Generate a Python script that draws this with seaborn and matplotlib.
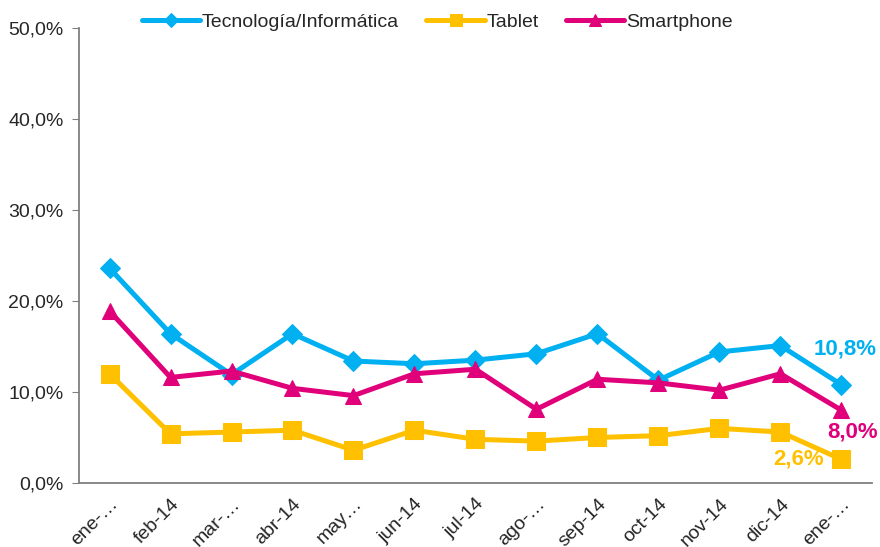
import numpy as np
import pandas as pd
import matplotlib
matplotlib.use("Agg")
import matplotlib.pyplot as plt
import seaborn as sns

# Data
months = ["ene-…", "feb-14", "mar-…", "abr-14", "may…", "jun-14", "jul-14",
          "ago-…", "sep-14", "oct-14", "nov-14", "dic-14", "ene-…"]
tecnologia = [23.6, 16.4, 11.9, 16.4, 13.4, 13.1, 13.5, 14.2, 16.4, 11.3, 14.4, 15.1, 10.8]
tablet = [12.0, 5.4, 5.6, 5.8, 3.6, 5.8, 4.8, 4.6, 5.0, 5.2, 6.0, 5.6, 2.6]
smartphone = [18.9, 11.6, 12.3, 10.4, 9.6, 12.0, 12.5, 8.1, 11.4, 11.0, 10.2, 12.0, 8.0]

series = ["Tecnología/Informática", "Tablet", "Smartphone"]
colors = ["#00B0F0", "#FFC000", "#E0007A"]
markers = ["D", "s", "^"]
msizes = [10, 13, 12]

sns.set_style("white")
plt.rcParams['font.family'] = ['Liberation Sans', 'DejaVu Sans']

df = pd.DataFrame({
    "pos": list(range(len(months))) * 3,
    "valor": tecnologia + tablet + smartphone,
    "serie": [s for s in series for _ in months],
})

fig = plt.figure(figsize=(8.8, 5.47), dpi=100)
ax = fig.add_axes([0.0898, 0.117, 0.901, 0.832])

for s, c, m, ms in zip(series, colors, markers, msizes):
    sns.lineplot(data=df[df["serie"] == s], x="pos", y="valor", color=c,
                 marker=m, markersize=ms, markeredgecolor=c, linewidth=3.6,
                 label=s, ax=ax, zorder=3)

ax.set_xlim(-0.5, len(months) - 0.5)
ax.set_ylim(0, 50)
ax.set_yticks(np.arange(0, 51, 10))
ax.set_yticklabels([f"{v:.1f}%".replace(".", ",") for v in np.arange(0, 51, 10)], fontsize=14)
ax.set_xticks(range(len(months)))
ax.set_xticklabels(months, rotation=45, ha="right", rotation_mode="anchor", fontsize=14)
ax.set_xticks(np.arange(-0.5, len(months), 1), minor=True)
ax.tick_params(axis="x", which="major", length=0, pad=9)
ax.tick_params(axis="x", which="minor", length=5, color="#808080", direction="out")
ax.tick_params(axis="y", length=5, color="#808080", direction="out", left=True, pad=6)
ax.set_xlabel("")
ax.set_ylabel("")

for side in ["top", "right"]:
    ax.spines[side].set_visible(False)
for side in ["left", "bottom"]:
    ax.spines[side].set_color("#808080")
    ax.spines[side].set_linewidth(1.3)

# end labels
last = len(months) - 1
ax.annotate("10,8%", (last, tecnologia[-1]), xytext=(4, 36), textcoords="offset pixels",
            ha="center", va="center", color=colors[0], fontsize=16, fontweight="bold")
ax.annotate("8,0%", (last, smartphone[-1]), xytext=(11, -22), textcoords="offset pixels",
            ha="center", va="center", color=colors[2], fontsize=16, fontweight="bold")
ax.annotate("2,6%", (last, tablet[-1]), xytext=(-18, 0), textcoords="offset pixels",
            ha="right", va="center", color=colors[1], fontsize=16, fontweight="bold")

ax.legend(loc="upper center", bbox_to_anchor=(0.497, 1.008), bbox_transform=fig.transFigure,
          ncol=3, frameon=False, fontsize=14, handlelength=3, columnspacing=1.4,
          handletextpad=0.1, markerscale=0.7)

fig.savefig("out.png", dpi=100)
plt.close(fig)
